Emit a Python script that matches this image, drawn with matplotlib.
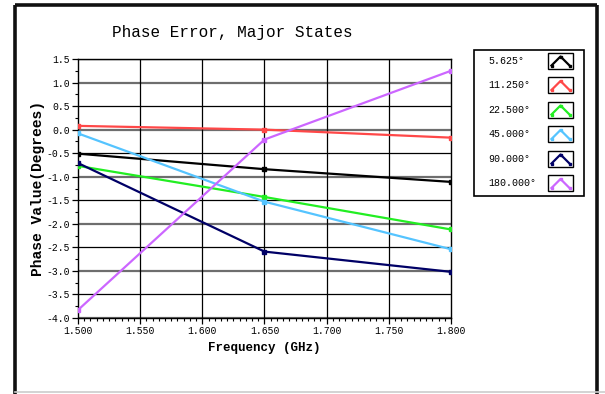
import matplotlib
matplotlib.use("Agg")
import matplotlib.pyplot as plt
from matplotlib.patches import Rectangle
from matplotlib.ticker import MultipleLocator, FormatStrFormatter

plt.rcParams['axes.unicode_minus'] = False

freq = [1.500, 1.650, 1.800]
labels = ["5.625°", "11.250°", "22.500°", "45.000°", "90.000°", "180.000°"]
colors = ["#000000", "#ff4848", "#22ee22", "#55c4ff", "#000066", "#cc66ff"]
s5_625 = [-0.51, -0.84, -1.11]
s11_25 = [0.08, 0.00, -0.17]
s22_5 = [-0.77, -1.43, -2.12]
s45 = [-0.08, -1.53, -2.54]
s90 = [-0.71, -2.59, -3.02]
s180 = [-3.83, -0.21, 1.25]
series = [s5_625, s11_25, s22_5, s45, s90, s180]

W, H = 605, 394
fig = plt.figure(figsize=(W / 100, H / 100), dpi=100)
fig.patch.set_facecolor("white")

ax = fig.add_axes([78 / W, 1 - 318 / H, (451 - 78) / W, (318 - 59) / H])
ax.set_xlim(1.5, 1.8)
ax.set_ylim(-4.0, 1.5)

# grid
for v in [x * 0.5 for x in range(-8, 4)]:
    if abs(v - round(v)) < 1e-9:
        ax.axhline(v, color="#6e6e6e", lw=1.6, zorder=1)
    else:
        ax.axhline(v, color="black", lw=0.9, zorder=1)
for f in [1.55, 1.60, 1.65, 1.70, 1.75]:
    ax.axvline(f, color="black", lw=0.9, zorder=1)

for vals, c in zip(series, colors):
    ax.plot(freq, vals, color=c, lw=1.6, marker="s", ms=3, zorder=3)

ax.xaxis.set_major_locator(MultipleLocator(0.05))
ax.xaxis.set_minor_locator(MultipleLocator(0.005))
ax.yaxis.set_major_locator(MultipleLocator(0.5))
ax.yaxis.set_minor_locator(MultipleLocator(0.25))
ax.xaxis.set_major_formatter(FormatStrFormatter("%.3f"))
ax.yaxis.set_major_formatter(FormatStrFormatter("%.1f"))
ax.tick_params(axis="both", which="major", length=4, width=0.9, labelsize=7,
               direction="out", pad=2)
ax.tick_params(axis="both", which="minor", length=2.5, width=0.8, direction="out")
for lab in ax.get_xticklabels() + ax.get_yticklabels():
    lab.set_family("Liberation Mono")
for sp in ax.spines.values():
    sp.set_linewidth(1.0)
    sp.set_color("black")

ax.set_xlabel("Frequency (GHz)", family="Liberation Mono", fontweight="bold",
              fontsize=9, labelpad=4)
ax.set_ylabel("Phase Value(Degrees)", family="Liberation Mono", fontweight="bold",
              fontsize=10.5, labelpad=1)

fig.text(232 / W, 1 - 33 / H, "Phase Error, Major States", family="Liberation Mono",
         fontsize=11.5, ha="center", va="center")

# overlay axes in pixel coordinates for frame and legend
ov = fig.add_axes([0, 0, 1, 1], zorder=5)
ov.set_xlim(0, W)
ov.set_ylim(H, 0)
ov.axis("off")
ov.patch.set_alpha(0)

# outer frame
ov.plot([14.5, 14.5], [4.5, 394], color="#111111", lw=2.6, solid_capstyle="butt")
ov.plot([14.5, 596.5], [5, 5], color="#111111", lw=2.6, solid_capstyle="butt")
ov.plot([596.5, 596.5], [4.5, 394], color="#111111", lw=2.6, solid_capstyle="butt")
ov.plot([14.5, 605], [392, 392], color="#cccccc", lw=1.2)

# legend
ov.add_patch(Rectangle((474, 50), 110, 146, fill=False, ec="black", lw=1.2))
row0, dy = 60.5, 24.5
for i, (lab, c) in enumerate(zip(labels, colors)):
    yc = row0 + i * dy
    ov.text(488, yc, lab, family="Liberation Mono", fontsize=7.2, va="center", ha="left")
    ov.add_patch(Rectangle((548, yc - 8), 25, 16, fill=False, ec="black", lw=1.0))
    ov.plot([551.5, 560.5, 569.5], [yc + 5, yc - 4, yc + 5], color=c, lw=1.6,
            marker="s", ms=1.6)

fig.savefig("out.png", dpi=100, facecolor="white")
